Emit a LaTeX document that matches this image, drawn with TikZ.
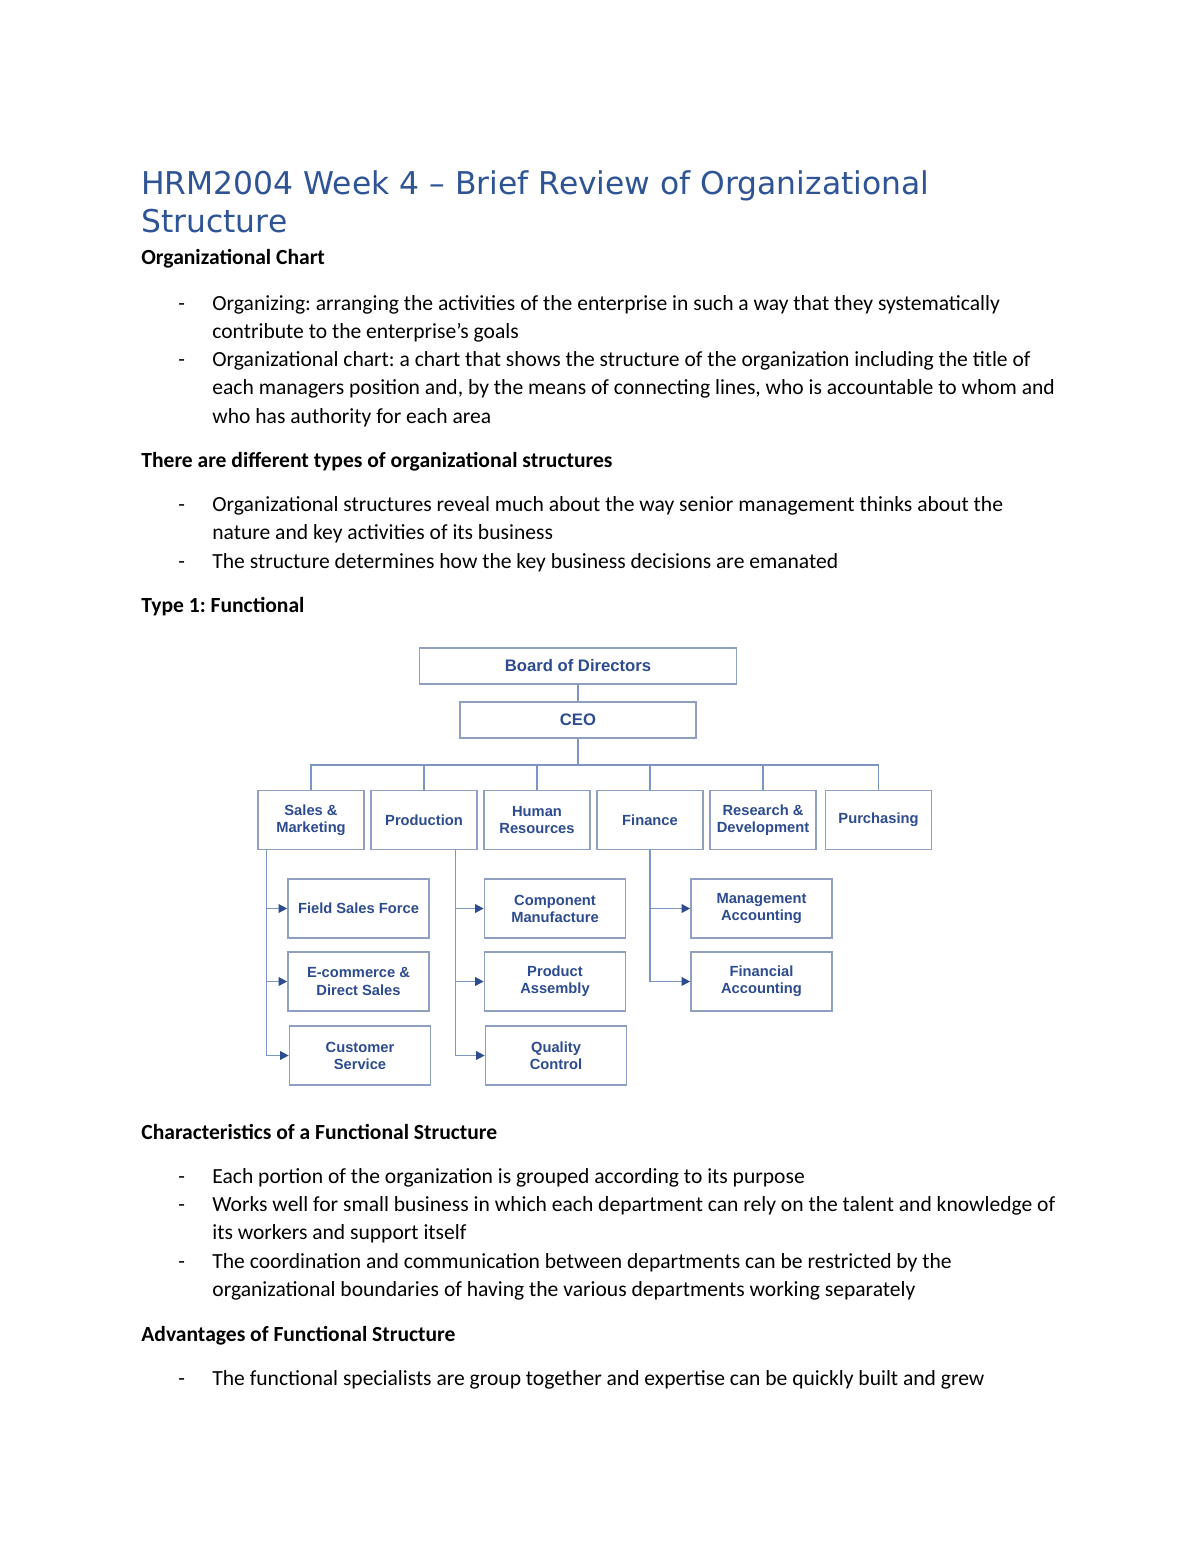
\documentclass[tikz,border=0pt]{standalone}
\usepackage{fontspec}
\setmainfont{Carlito}
\newfontfamily\headfont{DejaVu Sans}
\newfontfamily\chartfont{Liberation Sans}
\usetikzlibrary{arrows.meta}
\definecolor{headblue}{HTML}{2F5496}
\definecolor{chartblue}{HTML}{2D4B8E}
\definecolor{boxgray}{HTML}{8E9FC2}
\definecolor{linkblue}{HTML}{7C95C2}
\frenchspacing

\begin{document}
\begin{tikzpicture}[x=0.51pt,y=-0.51pt,
  txt/.style={anchor=base west,inner sep=0pt,font=\fontsize{11}{13}\selectfont},
  hd/.style={txt,font=\fontsize{11}{13}\selectfont\bfseries},
  ttl/.style={anchor=base west,inner sep=0pt,text=headblue,font=\headfont\fontsize{16}{19}\selectfont},
  org/.style={draw=boxgray,line width=0.75pt,text=chartblue,align=center,inner sep=0pt,
    font=\chartfont\fontsize{7.5}{8.7}\selectfont\bfseries},
  top/.style={org,minimum height=18.4pt,font=\chartfont\fontsize{8.5}{10}\selectfont\bfseries},
  dept/.style={org,minimum width=54pt,minimum height=30pt},
  sub/.style={org,minimum width=72pt,minimum height=30pt},
  link/.style={draw=linkblue,line width=0.8pt},
  tip/.style={link,-{Triangle[length=4.4pt,width=4.4pt,color=chartblue]}}]
\fill[white] (0,0) rectangle (1200,1553);
\useasboundingbox (0,0) rectangle (1200,1553);

% page text
\path (141,194) node[ttl] (t1) {HRM2004 Week 4 – Brief Review of Organizational}
      (141,233) node[ttl] (t2) {Structure}
      (141,265) node[hd] (h1) {Organizational Chart}
      (178,310) node[txt] (d1) {-} (212,310) node[txt] (b1) {Organizing: arranging the activities of the enterprise in such a way that they systematically}
      (212,338) node[txt] (b1b) {contribute to the enterprise’s goals}
      (178,366) node[txt] (d2) {-} (212,366) node[txt] (b2) {Organizational chart: a chart that shows the structure of the organization including the title of}
      (212,394) node[txt] (b2b) {each managers position and, by the means of connecting lines, who is accountable to whom and}
      (212,423) node[txt] (b2c) {who has authority for each area}
      (141,467) node[hd] (h2) {There are different types of organizational structures}
      (178,511) node[txt] (d3) {-} (212,511) node[txt] (b3) {Organizational structures reveal much about the way senior management thinks about the}
      (212,539) node[txt] (b3b) {nature and key activities of its business}
      (178,568) node[txt] (d4) {-} (212,568) node[txt] (b4) {The structure determines how the key business decisions are emanated}
      (141,612) node[hd] (h3) {Type 1: Functional};

\path (141,1139) node[hd] (h4) {Characteristics of a Functional Structure}
      (178,1183) node[txt] (d5) {-} (212,1183) node[txt] (b5) {Each portion of the organization is grouped according to its purpose}
      (178,1211) node[txt] (d6) {-} (212,1211) node[txt] (b6) {Works well for small business in which each department can rely on the talent and knowledge of}
      (212,1239) node[txt] (b6b) {its workers and support itself}
      (178,1268) node[txt] (d7) {-} (212,1268) node[txt] (b7) {The coordination and communication between departments can be restricted by the}
      (212,1296) node[txt] (b7b) {organizational boundaries of having the various departments working separately}
      (141,1341) node[hd] (h5) {Advantages of Functional Structure}
      (178,1385) node[txt] (d8) {-} (212,1385) node[txt] (b8) {The functional specialists are group together and expertise can be quickly built and grew};

% chart
\node[top,minimum width=161.7pt] (bod) at (578,666) {Board of Directors};
\node[top,minimum width=120.4pt] (ceo) at (578,720) {CEO};
\node[dept] (sm) at (311,820) {Sales \&\\Marketing};
\node[dept] (prod) at (424,820) {Production};
\node[dept] (hr) at (537,820) {Human\\Resources};
\node[dept] (fin) at (650,820) {Finance};
\node[dept] (rd) at (763,820) {Research \&\\Development};
\node[dept] (pur) at (878.5,820) {Purchasing};
\node[sub] (fsf) at (358.5,908.5) {Field Sales Force};
\node[sub] (ecd) at (358.5,981.5) {E-commerce \&\\Direct Sales};
\node[sub] (cs) at (360,1055.5) {Customer\\Service};
\node[sub] (cm) at (555,908.5) {Component\\Manufacture};
\node[sub] (pa) at (555,981.5) {Product\\Assembly};
\node[sub] (qc) at (556,1055.5) {Quality\\Control};
\node[sub] (ma) at (761.5,908.5) {Management\\Accounting};
\node[sub] (fa) at (761.5,981.5) {Financial\\Accounting};

\path (ceo.south) ++(0,26) coordinate (bus)
      (sm.south west) ++(9,0) coordinate (smt)
      (prod.south east) ++(-22,0) coordinate (prt);
\draw[link] (bod) -- (ceo);
\draw[link] (ceo) -- (bus);
\draw[link] (sm.north) |- (bus) -| (pur.north);
\draw[link] (prod.north) -- (prod.north |- bus);
\draw[link] (hr.north) -- (hr.north |- bus);
\draw[link] (fin.north) -- (fin.north |- bus);
\draw[link] (rd.north) -- (rd.north |- bus);
\draw[tip] (smt) |- (fsf);
\draw[tip] (smt) |- (ecd);
\draw[tip] (smt) |- (cs);
\draw[tip] (prt) |- (cm);
\draw[tip] (prt) |- (pa);
\draw[tip] (prt) |- (qc);
\draw[tip] (fin.south) |- (ma);
\draw[tip] (fin.south) |- (fa);
\end{tikzpicture}
\end{document}
